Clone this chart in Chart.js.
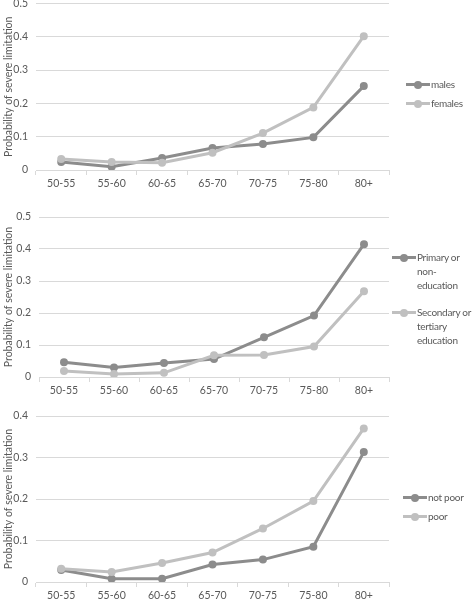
<!DOCTYPE html>
<html>
<head>
<meta charset="utf-8">
<script src="https://cdn.jsdelivr.net/npm/chart.js@4.4.1/dist/chart.umd.min.js"></script>
<style>
  body { margin: 0; background: #fff; width: 473px; height: 599px; position: relative; overflow: hidden; font-family: Lato, "Open Sans", sans-serif; }
  .panel { position: absolute; left: 0; width: 473px; }
  .legend { position: absolute; font-size: 10px; color: #595959; line-height: 14px; letter-spacing: -0.3px; }
  .item { position: absolute; left: 0; white-space: nowrap; }
  .mark { position: absolute; left: 0; top: 6px; width: 24px; height: 3px; }
  .mark::after { content: ''; position: absolute; left: 8px; top: -2.5px; width: 8px; height: 8px; border-radius: 50%; background: inherit; }
  .txt { position: absolute; left: 25px; top: 0; }
</style>
</head>
<body>
<div class="panel" style="top:-11px;height:205px"><canvas id="chartSex"></canvas></div>
<div class="panel" style="top:189px;height:212px"><canvas id="chartEdu"></canvas></div>
<div class="panel" style="top:400px;height:206px"><canvas id="chartPoor"></canvas></div>

<div class="legend" style="left:406px;top:77px">
  <div class="item" style="top:0"><span class="mark" style="background:#8c8c8c"></span><span class="txt">males</span></div>
  <div class="item" style="top:19px"><span class="mark" style="background:#c0c0c0"></span><span class="txt">females</span></div>
</div>
<div class="legend" style="left:392px;top:250px">
  <div class="item" style="top:0"><span class="mark" style="background:#8c8c8c"></span><span class="txt">Primary or<br>non-<br>education</span></div>
  <div class="item" style="top:55px"><span class="mark" style="background:#c0c0c0"></span><span class="txt">Secondary or<br>tertiary<br>education</span></div>
</div>
<div class="legend" style="left:403px;top:490px">
  <div class="item" style="top:0"><span class="mark" style="background:#8c8c8c"></span><span class="txt">not poor</span></div>
  <div class="item" style="top:19px"><span class="mark" style="background:#c0c0c0"></span><span class="txt">poor</span></div>
</div>

<script>
const ageGroups = ['50-55', '55-60', '60-65', '65-70', '70-75', '75-80', '80+'];

const males = [0.024, 0.010, 0.036, 0.066, 0.078, 0.098, 0.252];
const females = [0.033, 0.024, 0.022, 0.052, 0.111, 0.188, 0.402];

const primaryEdu = [0.046, 0.030, 0.044, 0.056, 0.124, 0.192, 0.415];
const secondaryEdu = [0.019, 0.009, 0.013, 0.068, 0.069, 0.095, 0.268];

const notPoor = [0.029, 0.008, 0.008, 0.042, 0.054, 0.085, 0.313];
const poor = [0.032, 0.024, 0.046, 0.071, 0.129, 0.195, 0.370];

const darkGrey = '#8c8c8c';
const lightGrey = '#c0c0c0';
const textGrey = '#595959';
const gridGrey = '#d9d9d9';

Chart.defaults.font.family = 'Lato, "Open Sans", sans-serif';
Chart.defaults.font.size = 10.5;
Chart.defaults.color = textGrey;

const makeSeries = (label, data, color, order) => ({
  label: label,
  data: data,
  borderColor: color,
  backgroundColor: color,
  borderWidth: 3,
  pointRadius: 4,
  pointHoverRadius: 4,
  pointBorderWidth: 0,
  tension: 0,
  order: order
});

// one chart per panel, the legend is plain html on the right
const makeChart = (id, series, yMax, yLeft, padTop) => {
  const ctx = document.getElementById(id);
  return new Chart(ctx, {
    type: 'line',
    data: {
      labels: ageGroups,
      datasets: series
    },
    options: {
      responsive: true,
      maintainAspectRatio: false,
      animation: false,
      layout: { padding: { top: padTop, right: 84, left: 0, bottom: 0 } },
      plugins: { legend: { display: false }, tooltip: { enabled: false } },
      scales: {
        x: {
          offset: true,
          grid: {
            offset: true,
            drawOnChartArea: false,
            drawTicks: true,
            tickLength: 5,
            color: gridGrey
          },
          border: { color: gridGrey, width: 1 },
          ticks: { padding: 2, maxRotation: 0, color: textGrey },
          afterFit: s => { s.height = 24 }
        },
        y: {
          min: 0,
          max: yMax,
          ticks: {
            stepSize: 0.1,
            padding: 8,
            color: textGrey,
            callback: value => value === 0 ? '0' : value.toFixed(1)
          },
          grid: { color: gridGrey, drawTicks: false, lineWidth: 1 },
          border: { display: false },
          title: {
            display: true,
            text: 'Probability of severe limitation',
            color: textGrey,
            font: { size: 10.5 },
            padding: { top: 2, bottom: 0 }
          },
          afterFit: s => { s.width = yLeft }
        }
      }
    }
  });
};

let chartSex = makeChart('chartSex', [
  makeSeries('males', males, darkGrey, 1),
  makeSeries('females', females, lightGrey, 0)
], 0.5, 36, 14.5);

let chartEdu = makeChart('chartEdu', [
  makeSeries('Primary or non-education', primaryEdu, darkGrey, 1),
  makeSeries('Secondary or tertiary education', secondaryEdu, lightGrey, 0)
], 0.5, 39, 28);

let chartPoor = makeChart('chartPoor', [
  makeSeries('not poor', notPoor, darkGrey, 1),
  makeSeries('poor', poor, lightGrey, 0)
], 0.4, 36, 16);
</script>
</body>
</html>
